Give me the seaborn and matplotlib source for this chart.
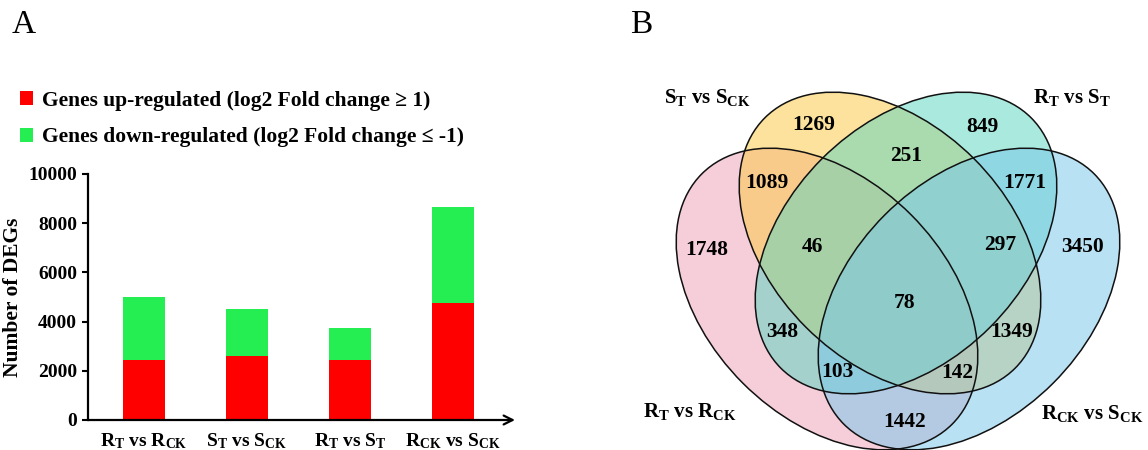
import numpy as np
import matplotlib
matplotlib.use("Agg")
import matplotlib.pyplot as plt
from matplotlib.patches import Ellipse
import seaborn as sns

# ---------------- data ----------------
categories = [r"R$_\mathrm{T}$ vs R$_\mathrm{CK}$",
              r"S$_\mathrm{T}$ vs S$_\mathrm{CK}$",
              r"R$_\mathrm{T}$ vs S$_\mathrm{T}$",
              r"R$_\mathrm{CK}$ vs S$_\mathrm{CK}$"]
up_regulated = [2440, 2600, 2440, 4745]
down_regulated = [2560, 1910, 1300, 3900]
up_label = "Genes up-regulated (log2 Fold change \u2265 1)"
down_label = "Genes down-regulated (log2 Fold change \u2264 -1)"
y_ticks = [0, 2000, 4000, 6000, 8000, 10000]

venn_sets = [r"R$_\mathrm{T}$ vs R$_\mathrm{CK}$",
             r"S$_\mathrm{T}$ vs S$_\mathrm{CK}$",
             r"R$_\mathrm{T}$ vs S$_\mathrm{T}$",
             r"R$_\mathrm{CK}$ vs S$_\mathrm{CK}$"]
venn_colors = ["#EDA1B9", "#FBC941", "#5DD5C1", "#79C7EB"]
venn_counts = [1269, 849, 251, 1089, 1771, 1748, 46, 297, 3450,
               78, 348, 1349, 103, 142, 1442]

# ---------------- style ----------------
sns.set_theme(style="white")
plt.rcParams["font.family"] = ["Liberation Serif", "DejaVu Serif"]
plt.rcParams["font.weight"] = "bold"
plt.rcParams["text.color"] = "black"
plt.rcParams["axes.labelcolor"] = "black"
plt.rcParams["xtick.color"] = "black"
plt.rcParams["ytick.color"] = "black"
plt.rcParams["mathtext.fontset"] = "custom"
plt.rcParams["mathtext.rm"] = "Liberation Serif:bold"
plt.rcParams["mathtext.bf"] = "Liberation Serif:bold"
plt.rcParams["mathtext.it"] = "Liberation Serif:bold:italic"

W, H = 1148, 450
fig = plt.figure(figsize=(W / 100, H / 100), dpi=100)

# ---------------- panel A ----------------
axA = fig.add_axes([88 / W, 1 - 420 / H, (515 - 88) / W, (420 - 174) / H])
totals = np.add(up_regulated, down_regulated)
sns.barplot(x=categories, y=totals, color="#24EE52", width=0.41,
            saturation=1, ax=axA, label=down_label, linewidth=0, edgecolor="none")
sns.barplot(x=categories, y=up_regulated, color="#FF0000", width=0.41,
            saturation=1, ax=axA, label=up_label, linewidth=0, edgecolor="none")

axA.set_xlim(-0.54, 3.6)
axA.set_ylim(0, 10000)
axA.set_yticks(y_ticks)
axA.set_yticklabels([str(t) for t in y_ticks], fontsize=14, fontweight="bold")
axA.set_xticks(range(len(categories)))
axA.set_xticklabels(categories, fontsize=14, fontweight="bold")
axA.tick_params(axis="y", left=True, length=4, width=1.5, direction="out",
                pad=4, colors="black")
axA.tick_params(axis="x", bottom=False, pad=2, colors="black")
for s in ["top", "right", "bottom"]:
    axA.spines[s].set_visible(False)
axA.spines["left"].set_linewidth(1.6)
axA.spines["left"].set_color("black")
axA.annotate("", xy=(1.0, 0), xytext=(0, 0), xycoords="axes fraction",
             arrowprops=dict(arrowstyle="->", lw=1.6, color="black",
                             mutation_scale=16, shrinkA=0, shrinkB=0),
             annotation_clip=False)
axA.set_xlabel("")
axA.set_ylabel("Number of DEGs", fontsize=15.5, fontweight="bold", color="black")
axA.yaxis.set_label_coords(-0.152, 0.5)

h, l = axA.get_legend_handles_labels()
leg = axA.legend(h[::-1], l[::-1], loc="upper left",
                 bbox_to_anchor=(20 / W, 1 - 91 / H), bbox_transform=fig.transFigure,
                 frameon=False, handlelength=0.62, handleheight=0.62,
                 handletextpad=0.4, labelspacing=0.75, borderaxespad=0, borderpad=0,
                 prop=dict(family="Liberation Serif", weight="bold", size=15.5))
for t in leg.get_texts():
    t.set_color("black")

fig.text(12 / W, 1 - 25 / H, "A", fontsize=24, fontweight="normal",
         va="center", ha="left", color="black")
fig.text(630 / W, 1 - 25 / H, "B", fontsize=24, fontweight="normal",
         va="center", ha="left", color="black")

# ---------------- panel B (Venn) ----------------
axB = fig.add_axes([0, 0, 1, 1])
axB.set_xlim(0, W)
axB.set_ylim(0, H)
axB.axis("off")
axB.patch.set_visible(False)

a, b = 177, 119
ellipses = [((827, 299), -45), ((890, 243), -45), ((906, 243), 45), ((969, 299), 45)]
for (c, ang), col in zip(ellipses, venn_colors):
    axB.add_patch(Ellipse((c[0], H - c[1]), 2 * a, 2 * b, angle=ang,
                          facecolor=col, edgecolor="none", alpha=0.52))
for (c, ang) in ellipses:
    axB.add_patch(Ellipse((c[0], H - c[1]), 2 * a, 2 * b, angle=ang,
                          facecolor="none", edgecolor="#111111", lw=1.1))

count_pos = [(814, 125), (982, 127), (906, 156), (767, 183), (1025, 183),
             (707, 250), (812, 247), (1000, 245), (1083, 247), (905, 303),
             (782, 332), (1012, 332), (837, 372), (957, 373), (905, 422)]
for v, (x, y) in zip(venn_counts, count_pos):
    axB.text(x, H - y, str(v), fontsize=15.5, fontweight="bold",
             ha="center", va="center", color="black")

set_pos = [(690, 412), (707, 97), (1072, 98), (1092, 413)]
for s, (x, y) in zip(venn_sets, set_pos):
    axB.text(x, H - y, s, fontsize=15, fontweight="bold",
             ha="center", va="center", color="black")

fig.savefig("out.png", dpi=100)
